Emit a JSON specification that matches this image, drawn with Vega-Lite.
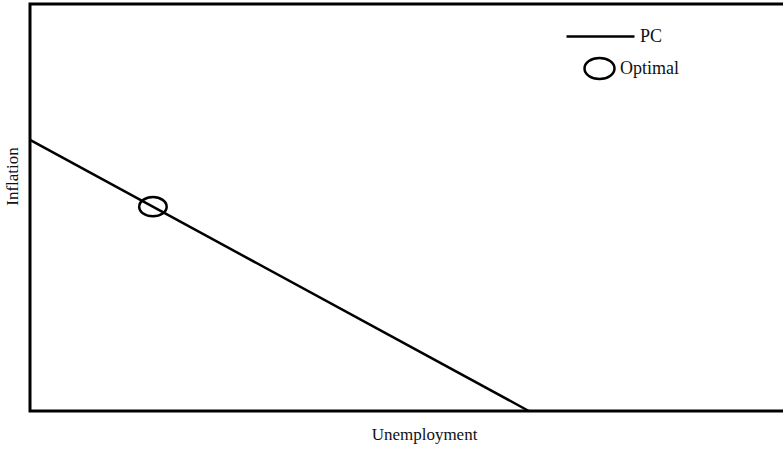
{
  "$schema": "https://vega.github.io/schema/vega-lite/v6.json",
  "width": 788,
  "height": 407,
  "autosize": "none",
  "padding": {"left": 30, "top": 4, "right": 0, "bottom": 40},
  "background": "white",
  "config": {
    "view": {"stroke": "black", "strokeWidth": 3},
    "font": "Liberation Serif",
    "axis": {
      "grid": false,
      "ticks": false,
      "labels": false,
      "domain": false,
      "titleFont": "Liberation Serif",
      "titleFontSize": 17,
      "titleFontWeight": "normal",
      "titleColor": "#111"
    },
    "legend": {
      "labelFont": "Liberation Serif",
      "labelFontSize": 18,
      "labelColor": "#111",
      "padding": 0
    }
  },
  "data": {
    "values": [
      {"u": 0, "inf": 66.6, "series": "PC"},
      {"u": 63.3, "inf": 0, "series": "PC"},
      {"u": 15.6, "inf": 50.2, "series": "Optimal"}
    ]
  },
  "layer": [
    {
      "transform": [{"filter": "datum.series === 'PC'"}],
      "mark": {"type": "line", "strokeWidth": 2.5},
      "encoding": {
        "x": {"field": "u", "type": "quantitative", "scale": {"domain": [0, 100]}, "axis": {"title": "Unemployment", "titlePadding": 15}},
        "y": {"field": "inf", "type": "quantitative", "scale": {"domain": [0, 100]}, "axis": {"title": "Inflation", "titlePadding": 9, "titleY": 172}},
        "color": {
          "field": "series",
          "type": "nominal",
          "scale": {"domain": ["PC"], "range": ["black"]},
          "legend": {"title": null, "orient": "none", "legendX": 535, "legendY": -3, "symbolType": "stroke", "symbolSize": 4624, "symbolStrokeWidth": 2.5}
        }
      }
    },
    {
      "transform": [{"filter": "datum.series === 'Optimal'"}],
      "mark": {"type": "point", "filled": false, "color": "black", "strokeWidth": 2.5, "size": 756, "opacity": 1},
      "encoding": {
        "x": {"field": "u", "type": "quantitative"},
        "y": {"field": "inf", "type": "quantitative"},
        "shape": {
          "field": "series",
          "type": "nominal",
          "scale": {"domain": ["Optimal"], "range": ["M-1,0A1,0.7 0 1,0 1,0A1,0.7 0 1,0 -1,0Z"]},
          "legend": {
            "title": null,
            "orient": "none",
            "legendX": 553,
            "legendY": 48,
            "symbolSize": 900,
            "symbolStrokeWidth": 2.5,
            "symbolStrokeColor": "black",
            "symbolOpacity": 1,
            "encode": {"symbols": {"update": {"shape": {"value": "M-1,0A1,0.52 0 1,0 1,0A1,0.52 0 1,0 -1,0Z"}}}}
          }
        }
      }
    }
  ]
}
